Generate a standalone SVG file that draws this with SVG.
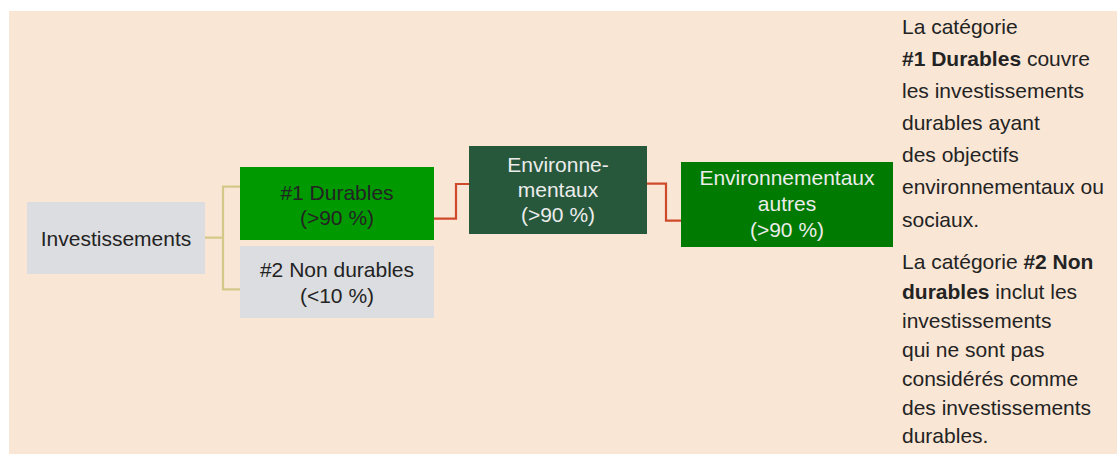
<svg xmlns="http://www.w3.org/2000/svg" width="1117" height="454" viewBox="0 0 1117 454">
<style>
text{font-family:"Liberation Sans",Arial,sans-serif;font-size:21px}
.dk{fill:#232323}
.lt{fill:#ececec}
.c{text-anchor:middle}
.tan{fill:none;stroke:#d5c98a;stroke-width:2.2}
.red{fill:none;stroke:#cf4a2b;stroke-width:2.2}
b,.b{font-weight:bold}
</style>
<rect x="9" y="11" width="1108" height="443" fill="#f9e6d5"/>
<g id="connectors">
<path class="tan" d="M205 237.7H223M240 186.7H223V289.3H240"/>
<path class="red" d="M434 218.7H456V184H469"/>
<path class="red" d="M647 183.7H666V220.7H681"/>
</g>
<g id="investissements">
<rect x="27" y="202" width="178" height="72" fill="#dcdde0"/>
<text class="dk c" x="116" y="245.5">Investissements</text>
</g>
<g id="durables">
<rect x="240" y="167" width="194" height="73" fill="#009900"/>
<text class="dk c" x="337" y="199.5">#1 Durables</text>
<text class="dk c" x="337" y="224.5">(&gt;90 %)</text>
</g>
<g id="non-durables">
<rect x="240" y="246" width="194" height="72" fill="#dcdde0"/>
<text class="dk c" x="337" y="276.7">#2 Non durables</text>
<text class="dk c" x="337" y="302.7">(&lt;10 %)</text>
</g>
<g id="environnementaux">
<rect x="469" y="146" width="178" height="88" fill="#27583b"/>
<text class="lt c" x="558" y="171.5">Environne-</text>
<text class="lt c" x="558" y="196.7">mentaux</text>
<text class="lt c" x="558" y="222">(&gt;90 %)</text>
</g>
<g id="environnementaux-autres">
<rect x="681" y="162" width="212" height="85" fill="#007a00"/>
<text class="lt c" x="787" y="185">Environnementaux</text>
<text class="lt c" x="787" y="211">autres</text>
<text class="lt c" x="787" y="237">(&gt;90 %)</text>
</g>
<g id="legend">
<text class="dk" x="902" y="33.5">La catégorie</text>
<text class="dk" x="902" y="65.5"><tspan class="b">#1 Durables</tspan> couvre</text>
<text class="dk" x="902" y="97.8">les investissements</text>
<text class="dk" x="902" y="130">durables ayant</text>
<text class="dk" x="902" y="162">des objectifs</text>
<text class="dk" x="902" y="194.3">environnementaux ou</text>
<text class="dk" x="902" y="226.5">sociaux.</text>
<text class="dk" x="902" y="269.3">La catégorie <tspan class="b">#2 Non</tspan></text>
<text class="dk" x="902" y="298.5"><tspan class="b">durables</tspan> inclut les</text>
<text class="dk" x="902" y="327.7">investissements</text>
<text class="dk" x="902" y="356.7">qui ne sont pas</text>
<text class="dk" x="902" y="385.7">considérés comme</text>
<text class="dk" x="902" y="414.5">des investissements</text>
<text class="dk" x="902" y="443.3">durables.</text>
</g>
</svg>
